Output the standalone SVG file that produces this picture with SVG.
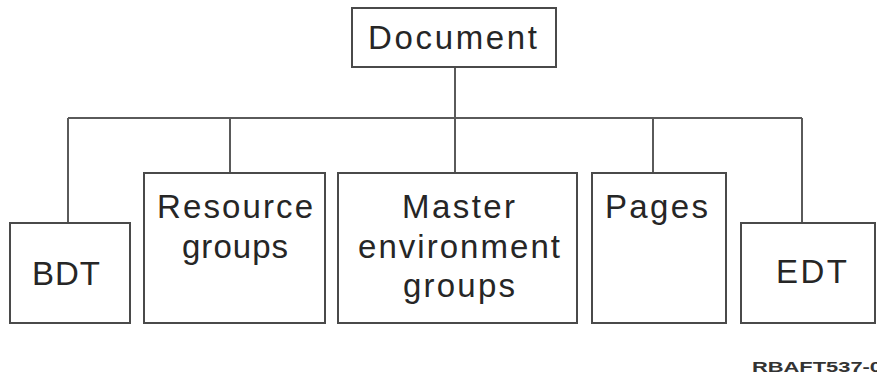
<svg xmlns="http://www.w3.org/2000/svg" width="877" height="377" viewBox="0 0 877 377">
<style>
.box{fill:#fff;stroke:#4a4a4a;stroke-width:2}
.ln{fill:none;stroke:#5a5a5a;stroke-width:2}
.t{font-family:"Liberation Sans",Arial,sans-serif;font-size:33px;fill:#262626}
.f{font-family:"Liberation Sans",Arial,sans-serif;font-size:15px;font-weight:bold;fill:#333}
</style>
<rect width="877" height="377" fill="#fff"/>
<g id="connectors">
<path class="ln" d="M455 67 V118 M68 118 H802 M68 118 V223 M230 118 V173 M455 118 V173 M653 118 V173 M802 118 V223"/>
</g>
<g id="document">
<rect class="box" x="352" y="8" width="204" height="59"/>
<text class="t" x="368" y="49" textLength="169" lengthAdjust="spacing">Document</text>
</g>
<g id="bdt">
<rect class="box" x="10" y="223" width="120" height="100"/>
<text class="t" x="32" y="285" textLength="68" lengthAdjust="spacing">BDT</text>
</g>
<g id="resource">
<rect class="box" x="144" y="173" width="181" height="150"/>
<text class="t" x="157" y="218" textLength="156" lengthAdjust="spacing">Resource</text>
<text class="t" x="182" y="258" textLength="106" lengthAdjust="spacing">groups</text>
</g>
<g id="master">
<rect class="box" x="338" y="173" width="239" height="150"/>
<text class="t" x="402" y="218" textLength="113" lengthAdjust="spacing">Master</text>
<text class="t" x="358" y="258" textLength="202" lengthAdjust="spacing">environment</text>
<text class="t" x="403" y="297" textLength="112" lengthAdjust="spacing">groups</text>
</g>
<g id="pages">
<rect class="box" x="592" y="173" width="134" height="150"/>
<text class="t" x="605" y="218" textLength="103" lengthAdjust="spacing">Pages</text>
</g>
<g id="edt">
<rect class="box" x="741" y="223" width="134" height="100"/>
<text class="t" x="776" y="283" textLength="71" lengthAdjust="spacing">EDT</text>
</g>
<text class="f" x="752" y="372" textLength="130" lengthAdjust="spacingAndGlyphs">RBAFT537-0</text>
</svg>
